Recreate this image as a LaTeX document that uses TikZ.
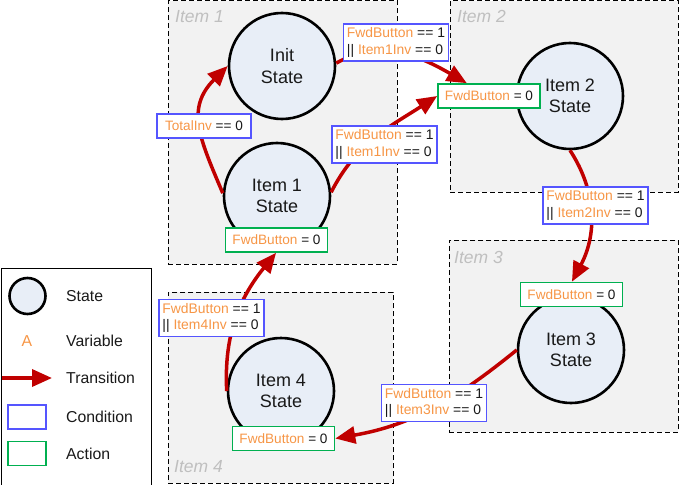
\documentclass[tikz,border=0pt]{standalone}
\usepackage{fontspec}
\setmainfont{Liberation Sans}
\usetikzlibrary{arrows.meta}
\definecolor{boxgray}{RGB}{242,242,242}
\definecolor{labelgray}{RGB}{191,191,191}
\definecolor{statefill}{RGB}{232,238,247}
\definecolor{actgreen}{RGB}{0,176,80}
\definecolor{condblue}{RGB}{85,85,255}
\definecolor{varorange}{RGB}{247,150,70}
\definecolor{transred}{RGB}{192,0,0}
\definecolor{textdark}{RGB}{25,25,25}
\newcommand{\vo}[1]{\textcolor{varorange}{#1}}
\begin{document}
\begin{tikzpicture}[x=1pt,y=1pt,
 itembox/.style={draw=black, fill=boxgray, dash pattern=on 5pt off 3pt, line width=0.9pt},
 itemlabel/.style={anchor=base west, text=labelgray, font=\fontsize{17.5}{20}\selectfont\itshape, inner sep=0},
 state/.style={circle, draw=black, fill=statefill, line width=2.6pt, minimum size=106pt, inner sep=0, align=center, font=\fontsize{18}{21.5}\selectfont, text=textdark},
 action/.style={draw=actgreen, fill=white, line width=1.6pt, minimum width=102pt, minimum height=24pt, inner sep=0, font=\fontsize{13.6}{16}\selectfont, text=textdark},
 cond/.style={draw=condblue, fill=white, line width=1.6pt, inner sep=0, minimum width=105pt, minimum height=37pt, align=left, font=\fontsize{13.9}{16.2}\selectfont, text=textdark},
 trans/.style={draw=transred, line width=3.5pt, -{Triangle[length=20pt,width=17pt]}},
 legtext/.style={anchor=west, inner sep=0, font=\fontsize{15.8}{18}\selectfont, text=textdark},
]
\useasboundingbox (0,0) rectangle (679,-484);
% item areas
\node[itembox, anchor=north west, minimum width=229pt, minimum height=263.5pt, inner sep=0] (box1) at (168,-0.5) {};
\node[itembox, anchor=north west, minimum width=228pt, minimum height=191.5pt, inner sep=0] (box2) at (450,-0.5) {};
\node[itembox, anchor=north west, minimum width=229pt, minimum height=192pt, inner sep=0] (box3) at (449,-240) {};
\node[itembox, anchor=north west, minimum width=225pt, minimum height=191pt, inner sep=0] (box4) at (168,-292) {};
\node[itemlabel] (lab1) at (175,-23) {Item 1};
\node[itemlabel] (lab2) at (457,-23) {Item 2};
\node[itemlabel] (lab3) at (454,-263) {Item 3};
\node[itemlabel] (lab4) at (174,-472) {Item 4};
% states
\node[state] (init) at (282,-66) {Init\\State};
\node[state] (i1) at (277,-196) {Item 1\\State};
\node[state] (i2) at (570,-96) {Item 2\\State};
\node[state] (i3) at (571,-350) {Item 3\\State};
\node[state] (i4) at (281,-391) {Item 4\\State};
% actions
\node[action] (a1) at (276.5,-240) {\vo{FwdButton} = 0};
\node[action] (a2) at (489,-96) {\vo{FwdButton} = 0};
\node[action] (a3) at (571.5,-294.5) {\vo{FwdButton} = 0};
\node[action] (a4) at (283.5,-438.5) {\vo{FwdButton} = 0};
% transitions
\draw[trans] (i1.177) to[out=113,in=225,looseness=1.2] (init.180);
\draw[trans] (init.3) to[out=30,in=150] (a2.150);
\draw[trans] (i1.4) to[out=63,in=213] (a2.180);
\draw[trans] (i2.-90) to[out=-57,in=62] (a3.88);
\draw[trans] (i3.180) to[out=219,in=10] (a4.0);
\draw[trans] (i4.180) to[out=93,in=231] (a1.-92);
% conditions
\node[cond, minimum width=94pt, minimum height=24pt, font=\fontsize{13.6}{16}\selectfont] (c0) at (204,-126) {\vo{TotalInv} == 0};
\node[cond] (c1) at (396,-42.5) {\vo{FwdButton} == 1\\|| \vo{Item1Inv} == 0};
\node[cond] (c2) at (384.5,-144.5) {\vo{FwdButton} == 1\\|| \vo{Item1Inv} == 0};
\node[cond] (c3) at (595.5,-205.5) {\vo{FwdButton} == 1\\|| \vo{Item2Inv} == 0};
\node[cond] (c4) at (434,-403) {\vo{FwdButton} == 1\\|| \vo{Item3Inv} == 0};
\node[cond] (c5) at (211.5,-318) {\vo{FwdButton} == 1\\|| \vo{Item4Inv} == 0};
% legend
\node[draw=black, line width=1pt, anchor=north west, minimum width=150pt, minimum height=217pt, inner sep=0] (legend) at (0.5,-267.5) {};
\node[state, minimum size=36pt] (lstate) at (27.5,-296) {};
\node[legtext] (tstate) at (66,-296) {State};
\node[inner sep=0, font=\fontsize{15.8}{18}\selectfont, text=varorange] (lvar) at (27,-341) {A};
\node[legtext] (tvar) at (66,-341) {Variable};
\coordinate (la1) at (2,-378);
\coordinate (la2) at (52,-378);
\draw[trans] (la1) -- (la2);
\node[legtext] (ttrans) at (66,-378) {Transition};
\node[draw=condblue, line width=1.6pt, minimum width=38pt, minimum height=24pt, inner sep=0] (lcond) at (27,-417) {};
\node[legtext] (tcond) at (66,-417) {Condition};
\node[draw=actgreen, line width=1.6pt, minimum width=38pt, minimum height=24pt, inner sep=0] (lact) at (27,-453.5) {};
\node[legtext] (tact) at (66,-453.5) {Action};
\end{tikzpicture}
\end{document}
